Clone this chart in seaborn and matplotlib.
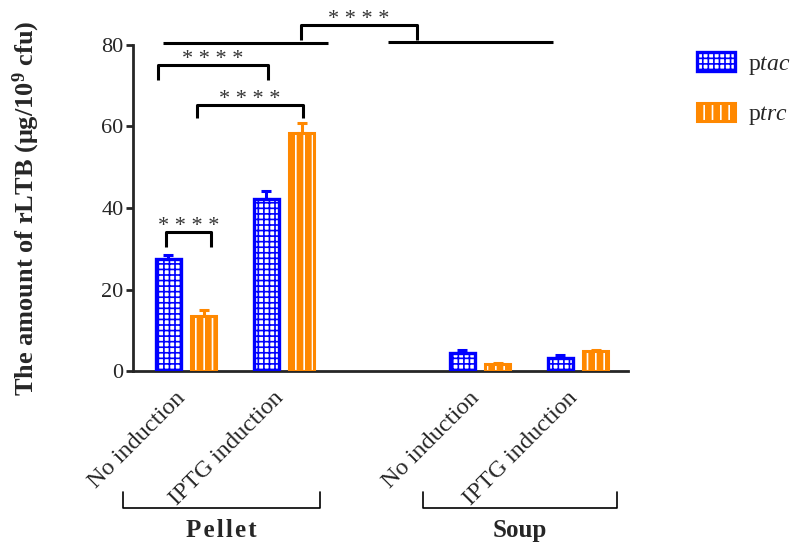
import numpy as np
import pandas as pd
import matplotlib
matplotlib.use("Agg")
import matplotlib.pyplot as plt
import matplotlib.colors as mcolors
import matplotlib.transforms as mtransforms
from matplotlib.patches import Patch
import seaborn as sns

# ---------------- data ----------------
conditions = ["Pellet No induction", "Pellet IPTG induction",
              "Soup No induction", "Soup IPTG induction"]
slot_order = ["Pellet No induction", "Pellet IPTG induction", "gap",
              "Soup No induction", "Soup IPTG induction"]
tick_labels = ["No induction", "IPTG induction", "", "No induction", "IPTG induction"]
plasmids = ["ptac", "ptrc"]
legend_labels = [r"p$\mathit{tac}$", r"p$\mathit{trc}$"]
ptac_mean = [27.5, 42.2, 4.3, 3.3]
ptac_sd = [1.0, 2.0, 0.9, 0.6]
ptrc_mean = [13.5, 58.4, 1.7, 4.8]
ptrc_sd = [1.4, 2.5, 0.3, 0.4]
groups = ["P\u200ae\u200al\u200al\u200ae\u200at", "Soup"]
group_spans = [(-0.64, 1.37), (2.42, 4.40)]
ylabel = r"The amount of rLTB (μg/10$^{\mathbf{9}}$ cfu)"
star_text = "* * * *"
# significance brackets: (x_left, x_right, y_top, y_leg_bottom)
sig_brackets = [(-0.20, 0.255, 34.1, 30.4),
                (-0.29, 0.84, 75.1, 71.4),
                (0.11, 1.19, 65.3, 62.1),
                (1.17, 2.36, 84.9, 81.2)]
group_lines = [(-0.235, 1.45, 80.5), (2.06, 3.74, 80.7)]

blue = "#0000ff"
orange = "#ff8800"
colors = {"ptac": blue, "ptrc": orange}

df = pd.DataFrame({
    "condition": conditions * 2,
    "plasmid": ["ptac"] * 4 + ["ptrc"] * 4,
    "value": ptac_mean + ptrc_mean,
    "sd": ptac_sd + ptrc_sd,
})

# ---------------- style ----------------
sns.set_style("ticks")
plt.rcParams["font.family"] = ["Liberation Serif", "DejaVu Serif"]
plt.rcParams["mathtext.fontset"] = "custom"
plt.rcParams["mathtext.rm"] = "Liberation Serif"
plt.rcParams["mathtext.it"] = "Liberation Serif:italic"
plt.rcParams["mathtext.bf"] = "Liberation Serif:bold"
plt.rcParams["hatch.linewidth"] = 1.2

fig = plt.figure(figsize=(8.02, 5.46), dpi=100)
ax = fig.add_axes([0.166, 0.3205, 0.783 - 0.166, 0.9176 - 0.3205])

sns.barplot(data=df, x="condition", y="value", hue="plasmid",
            order=slot_order, hue_order=plasmids, palette=colors,
            errorbar=None, width=0.72, gap=0.28, linewidth=2.4,
            legend=False, ax=ax, zorder=3)

blue_hatch = "+++"
orange_hatch = "||"
for p in ax.containers[0]:
    p.set_facecolor("white")
    p.set_edgecolor(blue)
    p.set_hatch(blue_hatch)
    p.set_linewidth(2.4)
for p in ax.containers[1]:
    p.set_facecolor(orange)
    p.set_edgecolor(orange)
    p.set_hatch(orange_hatch)
    p.set_linewidth(2.2)
    p._hatch_color = mcolors.to_rgba("white")

# error bars (upper only)
for ci, (pl, sds) in enumerate(zip(plasmids, [ptac_sd, ptrc_sd])):
    bars = sorted(ax.containers[ci], key=lambda b: b.get_x())
    xs = [b.get_x() + b.get_width() / 2 for b in bars]
    ys = [b.get_height() for b in bars]
    ax.errorbar(xs, ys, yerr=[np.zeros(len(sds)), sds], fmt="none",
                ecolor=colors[pl], elinewidth=2.2, capsize=3.6, capthick=2.2,
                zorder=2)

ax.set_xlim(-0.54, 4.51)
ax.set_ylim(0, 80)
ax.set_yticks([0, 20, 40, 60, 80])
ax.tick_params(axis="y", labelsize=16, length=5, width=2, pad=2)
ax.tick_params(axis="x", length=0, pad=20)
ax.set_xticks(range(len(slot_order)))
ax.set_xticklabels(tick_labels, rotation=45, ha="right", va="baseline",
                   rotation_mode="anchor", fontsize=17.5)
for s in ["top", "right"]:
    ax.spines[s].set_visible(False)
for s in ["left", "bottom"]:
    ax.spines[s].set_linewidth(2)
ax.spines["left"].set_bounds(0, 80)
ax.set_xlabel("")
ax.set_ylabel(ylabel, fontsize=19, fontweight="bold")
ax.yaxis.set_label_coords(-0.185, 0.5)

# significance brackets
for (x1, x2, yt, yb) in sig_brackets:
    ax.plot([x1, x1, x2, x2], [yb, yt, yt, yb], color="black", lw=2.2,
            clip_on=False, solid_capstyle="butt")
    ax.text((x1 + x2) / 2, yt + 0.3, star_text, ha="center", va="baseline",
            fontsize=16, color="#333333", clip_on=False)
for (x1, x2, y) in group_lines:
    ax.plot([x1, x2], [y, y], color="black", lw=2.2, clip_on=False,
            solid_capstyle="butt")

# group brackets under the axis
trans = mtransforms.blended_transform_factory(ax.transData, ax.transAxes)
for name, (x1, x2) in zip(groups, group_spans):
    ax.plot([x1, x1, x2, x2], [-0.371, -0.42, -0.42, -0.371], color="black",
            lw=1.2, transform=trans, clip_on=False)
    ax.text((x1 + x2) / 2, -0.488, name, transform=trans, ha="center",
            va="center", fontsize=18, fontweight="bold")

# legend
handles = [Patch(facecolor="white", edgecolor=blue, hatch=blue_hatch, linewidth=2.4),
           Patch(facecolor=orange, edgecolor=orange, hatch=orange_hatch, linewidth=2.2)]
handles[1]._hatch_color = mcolors.to_rgba("white")
fig.legend(handles, legend_labels, loc="upper left",
           bbox_to_anchor=(697 / 802, 1 - 52 / 546), frameon=False,
           fontsize=17, handlelength=1.6, handleheight=0.85,
           handletextpad=0.55, labelspacing=1.1, borderpad=0, borderaxespad=0)

fig.savefig("out.png", dpi=100)
